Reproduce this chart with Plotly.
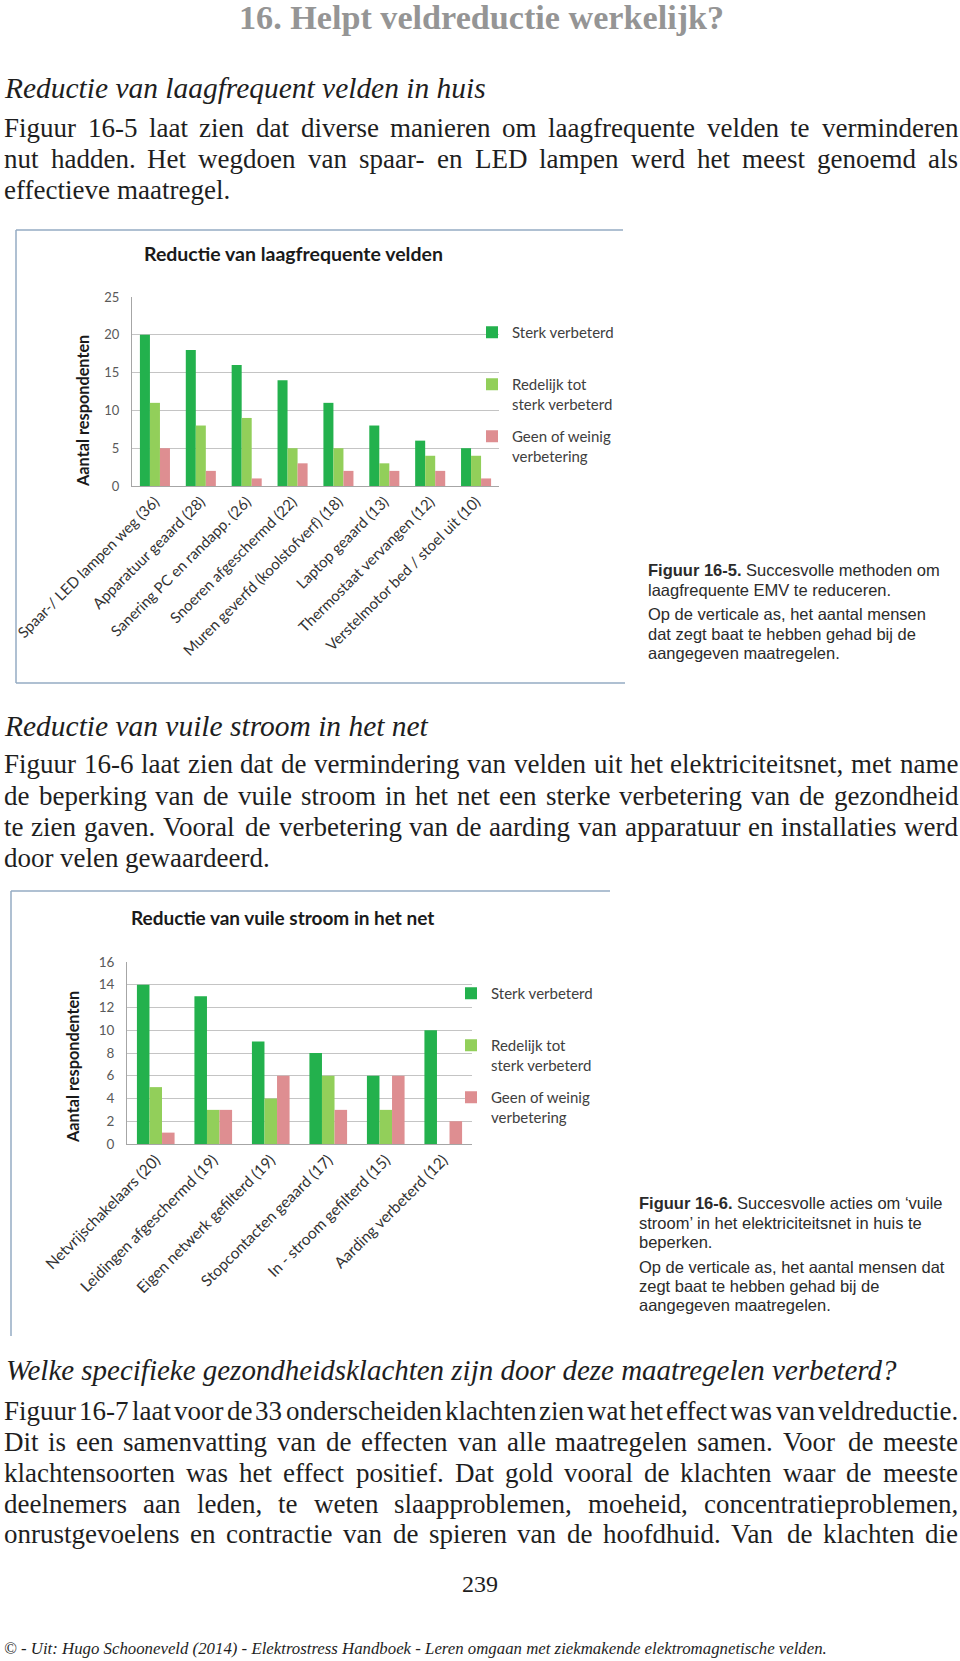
import plotly.graph_objects as go

W, H = 960, 1661

# ---------------- data ----------------
categories_1 = ["Spaar-/ LED lampen weg (36)", "Apparatuur geaard (28)", "Sanering PC en randapp. (26)",
                "Snoeren afgeschermd (22)", "Muren geverfd (koolstofverf) (18)", "Laptop geaard (13)",
                "Thermostaat vervangen (12)", "Verstelmotor bed / stoel uit (10)"]
sterk_1 = [20, 18, 16, 14, 11, 8, 6, 5]
redelijk_1 = [11, 8, 9, 5, 5, 3, 4, 4]
geen_1 = [5, 2, 1, 3, 2, 2, 2, 1]

categories_2 = ["Netvrijschakelaars (20)", "Leidingen afgeschermd (19)", "Eigen netwerk gefilterd (19)",
                "Stopcontacten geaard (17)", "In - stroom gefilterd (15)", "Aarding verbeterd (12)"]
sterk_2 = [14, 13, 9, 8, 6, 10]
redelijk_2 = [5, 3, 4, 6, 3, 0]
geen_2 = [1, 3, 6, 3, 6, 2]

series_names = ["Sterk verbeterd", "Redelijk tot<br>sterk verbeterd", "Geen of weinig<br>verbetering"]
series_colors = ["#23b14d", "#92cf5a", "#de8e91"]

title_1 = "Reductie van laagfrequente velden"
title_2 = "Reductie van vuile stroom in het net"
y_title = "Aantal respondenten"

page_title = "16. Helpt veldreductie werkelijk?"
heading_1 = "Reductie van laagfrequent velden in huis"
para_1 = ["Figuur 16-5 laat zien dat diverse manieren om laagfrequente velden te verminderen",
          "nut hadden. Het wegdoen van spaar- en LED lampen werd het meest genoemd als",
          "effectieve maatregel."]
caption_1 = ["<b>Figuur 16-5.</b> Succesvolle methoden om", "laagfrequente EMV te reduceren.",
             "Op de verticale as, het aantal mensen", "dat zegt baat te hebben gehad bij de",
             "aangegeven maatregelen."]
heading_2 = "Reductie van vuile stroom in het net"
para_2 = ["Figuur 16-6 laat zien dat de vermindering van velden uit het elektriciteitsnet, met name",
          "de beperking van de vuile stroom in het net een sterke verbetering van de gezondheid",
          "te zien gaven. Vooral de verbetering van de aarding van apparatuur en installaties werd",
          "door velen gewaardeerd."]
caption_2 = ["<b>Figuur 16-6.</b> Succesvolle acties om \u2018vuile", "stroom\u2019 in het elektriciteitsnet in huis te",
             "beperken.", "Op de verticale as, het aantal mensen dat", "zegt baat te hebben gehad bij de",
             "aangegeven maatregelen."]
heading_3 = "Welke specifieke gezondheidsklachten zijn door deze maatregelen verbeterd?"
para_3 = ["Figuur 16-7 laat voor de 33 onderscheiden klachten zien wat het effect was van veldreductie.",
          "Dit is een samenvatting van de effecten van alle maatregelen samen. Voor de meeste",
          "klachtensoorten was het effect positief. Dat gold vooral de klachten waar de meeste",
          "deelnemers aan leden, te weten slaapproblemen, moeheid, concentratieproblemen,",
          "onrustgevoelens en contractie van de spieren van de hoofdhuid. Van de klachten die"]
page_number = "239"
footer = "\u00a9 - Uit: Hugo Schooneveld (2014) - Elektrostress Handboek - Leren omgaan met ziekmakende elektromagnetische velden."

# ---------------- font metrics (Times, per 1000 em) ----------------
def make_table(groups):
    t = {}
    for w, chars in groups:
        for c in chars:
            t[c] = w
    return t

ROMAN = make_table([(250, " .,"), (278, "iljt/:;"), (333, "fr-()I'\u2018\u2019!"), (389, "sJ"),
                    (444, "acez?"), (500, "bdghknopquvxy0123456789"), (556, "FPS"),
                    (611, "ELTZ"), (667, "BCR"), (722, "ADGHKNOQUVXYw"), (778, "m"),
                    (889, "M"), (944, "W"), (760, "\u00a9")])
ITALIC = make_table([(250, " .,"), (278, "iljtf"), (333, "-()I':"), (389, "rsz"),
                     (444, "cekvxyJ"), (500, "abdghnopquS0123456789?"), (556, "LTYZ"),
                     (611, "ABEFPRVX"), (667, "CKNw"), (722, "DGHOQUm"), (833, "MW"),
                     (760, "\u00a9")])
BOLD = make_table([(250, " .,"), (278, "il"), (333, "jtf-()I:"), (389, "s"), (444, "cerz"),
                   (500, "agvxy?0123456789"), (556, "bdhknpqu"), (722, "w"), (778, "H"),
                   (833, "m")])


def text_width(s, size, table):
    return sum(table.get(c, 500) for c in s) * size / 1000.0


def fit_size(s, width, table):
    return width / (sum(table.get(c, 500) for c in s) / 1000.0)


def px(x):
    return x / W


def py(y):
    return 1 - y / H


annotations = []


def add_text(x, y, s, size, family, color, anchor="left", angle=0):
    annotations.append(dict(x=px(x), y=py(y), xref="paper", yref="paper", text=s, showarrow=False,
                            xanchor=anchor, yanchor="middle", textangle=angle,
                            font=dict(size=size, family=family, color=color)))


SERIF = "Liberation Serif"
BODY = "#1e1e1e"


def body_line(line, y, size, justify, left=3.0, right=957.0):
    words = line.split(" ")
    widths = [text_width(w, size, ROMAN) for w in words]
    n = len(words)
    if justify and n > 1:
        gap = (right - left - sum(widths)) / (n - 1)
        if gap < 3.0:
            size = size * (right - left - (n - 1) * 3.0) / sum(widths)
            widths = [text_width(w, size, ROMAN) for w in words]
            gap = (right - left - sum(widths)) / (n - 1)
    else:
        gap = text_width(" ", size, ROMAN)
    x = left
    for w, wd in zip(words, widths):
        add_text(x - 1, y, w, size, SERIF, BODY)
        x += wd + gap


BODY_SIZE = 27

# page title
ts = fit_size(page_title, 486, BOLD)
add_text(481, 17, "<b>" + page_title + "</b>", ts, SERIF, "#959595", anchor="center")

# headings
add_text(2, 88, "<i>" + heading_1 + "</i>", fit_size(heading_1, 482, ITALIC), SERIF, BODY)
add_text(2, 726, "<i>" + heading_2 + "</i>", fit_size(heading_2, 424, ITALIC), SERIF, BODY)
add_text(4, 1370, "<i>" + heading_3 + "</i>", fit_size(heading_3, 896, ITALIC), SERIF, BODY)

for i, (line, y) in enumerate(zip(para_1, [128, 159, 190])):
    body_line(line, y, BODY_SIZE, i < len(para_1) - 1)
for i, (line, y) in enumerate(zip(para_2, [764, 796, 827, 858])):
    body_line(line, y, BODY_SIZE, i < len(para_2) - 1)
for i, (line, y) in enumerate(zip(para_3, [1411, 1442, 1473, 1504, 1534])):
    body_line(line, y, BODY_SIZE, True)

add_text(480, 1584, page_number, 24, SERIF, BODY, anchor="center")
add_text(2, 1648, "<i>" + footer + "</i>", fit_size(footer, 826, ITALIC), SERIF, BODY)

# captions
for line, y in zip(caption_1, [570, 590, 614, 634, 653]):
    add_text(646, y, line, 16.5, "Liberation Sans", "#2b2b2b")
for line, y in zip(caption_2, [1203, 1222.7, 1241.7, 1266.7, 1286, 1305]):
    add_text(637, y, line, 16.5, "Liberation Sans", "#2b2b2b")

# chart titles and axis titles
CH = "Lato"
add_text(293, 254, "<b>" + title_1 + "</b>", 19.5, CH, "#1a1a1a", anchor="center")
add_text(282, 917, "<b>" + title_2 + "</b>", 19, CH, "#1a1a1a", anchor="center")
add_text(82, 411, "<b>" + y_title + "</b>", 16.3, CH, "#1a1a1a", anchor="center", angle=-90)
add_text(72, 1067, "<b>" + y_title + "</b>", 16.3, CH, "#1a1a1a", anchor="center", angle=-90)

# ---------------- figure ----------------
fig = go.Figure()
for i, vals in enumerate([sterk_1, redelijk_1, geen_1]):
    name = series_names[i] if i > 0 else series_names[i] + "<br> "
    fig.add_trace(go.Bar(x=categories_1, y=vals, name=name, marker_color=series_colors[i],
                         xaxis="x", yaxis="y", legend="legend", legendgroup="a%d" % i))
for i, vals in enumerate([sterk_2, redelijk_2, geen_2]):
    name = series_names[i] if i > 0 else series_names[i] + "<br> "
    fig.add_trace(go.Bar(x=categories_2, y=vals, name=name, marker_color=series_colors[i],
                         xaxis="x2", yaxis="y2", legend="legend2", legendgroup="b%d" % i))

shapes = []
BORDER = "#95abc3"
for (x0, y0, x1, y1) in [(16, 230, 16, 683), (16, 230, 623, 230), (16, 683, 625, 683),
                         (11, 891, 11, 1336), (11, 891, 610, 891)]:
    shapes.append(dict(type="line", xref="paper", yref="paper", x0=px(x0), y0=py(y0), x1=px(x1), y1=py(y1),
                       line=dict(color=BORDER, width=1.5)))

axis_x = dict(tickangle=-45, showline=True, linecolor="#a6a6a6", linewidth=1, showgrid=False,
              ticks="", automargin=False, zeroline=False)
axis_y = dict(showgrid=True, gridcolor="#c4c4c4", gridwidth=1, showline=True, linecolor="#a6a6a6",
              linewidth=1, zeroline=False, ticks="", automargin=False, ticklabelstandoff=9)

legend_common = dict(xanchor="left", yanchor="top", bgcolor="rgba(0,0,0,0)", valign="top",
                     traceorder="grouped", tracegroupgap=10, itemwidth=30,
                     font=dict(size=15, family=CH, color="#404040"))

fig.update_layout(
    template="none",
    width=W, height=H,
    margin=dict(l=0, r=0, t=0, b=0),
    paper_bgcolor="white", plot_bgcolor="white",
    font=dict(family=CH, color="#333333"),
    barmode="group", bargap=0.345, bargroupgap=0,
    showlegend=True,
    xaxis=dict(domain=[px(132), px(499)], anchor="y", tickfont=dict(size=15, color="#333333"), **axis_x),
    yaxis=dict(domain=[py(486), py(297)], anchor="x", range=[0, 25], dtick=5, tick0=0,
               tickfont=dict(size=13, color="#595959"), **axis_y),
    xaxis2=dict(domain=[px(127), px(472)], anchor="y2", tickfont=dict(size=15.5, color="#333333"), **axis_x),
    yaxis2=dict(domain=[py(1144), py(962)], anchor="x2", range=[0, 16], dtick=2, tick0=0,
                tickfont=dict(size=13.5, color="#595959"), **axis_y),
    legend=dict(x=px(472), y=py(316), **legend_common),
    legend2=dict(x=px(451), y=py(977), **legend_common),
    annotations=annotations,
    shapes=shapes,
)

fig.write_html("out.html", config={"displayModeBar": False},
               post_script="document.body.style.margin='0';document.body.style.padding='0';document.body.style.overflow='hidden';")
